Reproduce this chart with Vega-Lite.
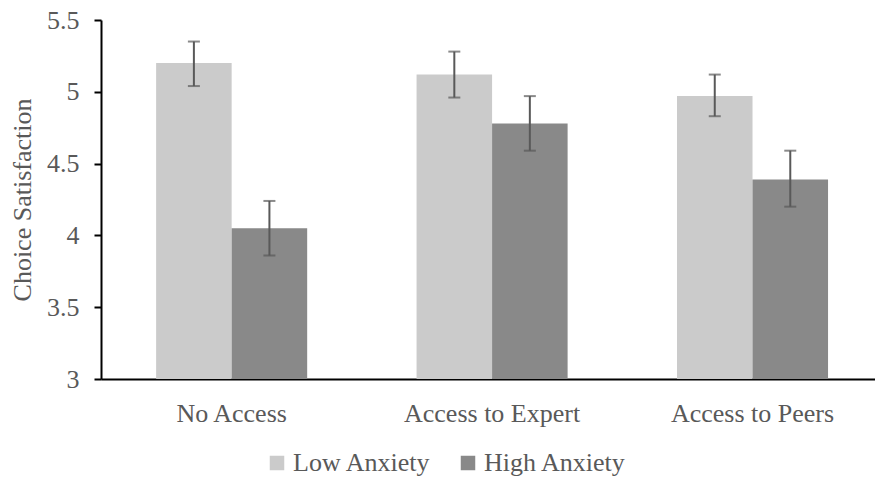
{
  "$schema": "https://vega.github.io/schema/vega-lite/v6.json",
  "width": 774,
  "height": 359,
  "autosize": {"type": "none"},
  "padding": {"left": 101, "top": 20, "right": 0, "bottom": 102},
  "background": "white",
  "config": {
    "view": {"stroke": null},
    "font": "Liberation Serif, Times New Roman, serif"
  },
  "data": {
    "values": [
      {"condition": "No Access", "group": "Low Anxiety", "mean": 5.2, "lo": 5.04, "hi": 5.35},
      {"condition": "No Access", "group": "High Anxiety", "mean": 4.05, "lo": 3.86, "hi": 4.24},
      {"condition": "Access to Expert", "group": "Low Anxiety", "mean": 5.12, "lo": 4.96, "hi": 5.28},
      {"condition": "Access to Expert", "group": "High Anxiety", "mean": 4.78, "lo": 4.59, "hi": 4.97},
      {"condition": "Access to Peers", "group": "Low Anxiety", "mean": 4.97, "lo": 4.83, "hi": 5.12},
      {"condition": "Access to Peers", "group": "High Anxiety", "mean": 4.39, "lo": 4.2, "hi": 4.59}
    ]
  },
  "encoding": {
    "x": {
      "field": "condition",
      "type": "nominal",
      "sort": ["No Access", "Access to Expert", "Access to Peers"],
      "scale": {"paddingInner": 0.42, "paddingOuter": 0.196, "align": 0.54},
      "axis": {
        "title": null,
        "labelAngle": 0,
        "ticks": false,
        "domainColor": "#000000",
        "domainWidth": 2,
        "labelFont": "Liberation Serif, Times New Roman, serif",
        "labelFontSize": 26,
        "labelColor": "#595959",
        "labelPadding": 21
      }
    },
    "xOffset": {
      "field": "group",
      "type": "nominal",
      "sort": ["Low Anxiety", "High Anxiety"],
      "scale": {"paddingInner": 0, "paddingOuter": 0}
    }
  },
  "layer": [
    {
      "mark": {"type": "bar"},
      "encoding": {
        "y": {
          "field": "mean",
          "type": "quantitative",
          "scale": {"domain": [3, 5.5], "zero": false, "nice": false},
          "axis": {
            "title": "Choice Satisfaction",
            "values": [3, 3.5, 4, 4.5, 5, 5.5],
            "format": "~g",
            "grid": false,
            "domainColor": "#000000",
            "domainWidth": 2,
            "tickColor": "#000000",
            "tickWidth": 2,
            "tickSize": 7,
            "labelFont": "Liberation Serif, Times New Roman, serif",
            "labelFontSize": 26,
            "labelColor": "#595959",
            "labelPadding": 15,
            "titleFont": "Liberation Serif, Times New Roman, serif",
            "titleFontSize": 26,
            "titleFontWeight": "normal",
            "titleColor": "#595959",
            "titlePadding": 11
          }
        },
        "y2": {"datum": 3},
        "color": {
          "field": "group",
          "type": "nominal",
          "scale": {"domain": ["Low Anxiety", "High Anxiety"], "range": ["#cbcbcb", "#898989"]},
          "legend": {
            "title": null,
            "orient": "none",
            "direction": "horizontal",
            "legendX": 163,
            "legendY": 430,
            "symbolType": "square",
            "symbolSize": 210,
            "symbolStrokeWidth": 0,
            "symbolOpacity": 1,
            "labelFont": "Liberation Serif, Times New Roman, serif",
            "labelFontSize": 26,
            "labelColor": "#595959",
            "labelOffset": 3,
            "columnPadding": 24
          }
        }
      }
    },
    {
      "mark": {"type": "rule", "color": "#595959", "strokeWidth": 2},
      "encoding": {
        "y": {"field": "lo", "type": "quantitative"},
        "y2": {"field": "hi"}
      }
    },
    {
      "mark": {"type": "tick", "color": "#595959", "thickness": 2, "size": 12, "orient": "horizontal"},
      "encoding": {
        "y": {"field": "lo", "type": "quantitative"}
      }
    },
    {
      "mark": {"type": "tick", "color": "#595959", "thickness": 2, "size": 12, "orient": "horizontal"},
      "encoding": {
        "y": {"field": "hi", "type": "quantitative"}
      }
    }
  ]
}
